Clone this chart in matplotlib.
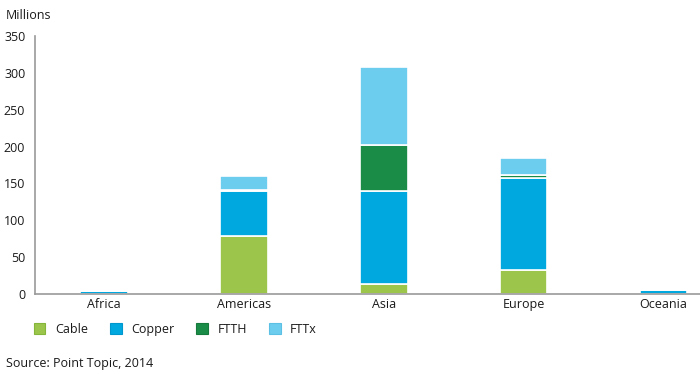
import numpy as np
import matplotlib.pyplot as plt
from matplotlib.patches import Patch

regions = ["Africa", "Americas", "Asia", "Europe", "Oceania"]
cable = [0.5, 79, 13, 32, 0.5]
copper = [3.5, 61, 127, 125, 4.5]
ftth = [0, 0.5, 62, 4, 0]
fttx = [0, 20, 106, 24, 0]

series = ["Cable", "Copper", "FTTH", "FTTx"]
colors = ["#9bc64b", "#00a8e0", "#1b8c47", "#6dcdee"]
edges = ["#86b53c", "#0097cc", "#157a3c", "#5cc0e4"]

plt.rcParams["font.family"] = ["Open Sans", "DejaVu Sans"]
txt_col = "#1a1a1a"

fig = plt.figure(figsize=(7, 3.74), dpi=100)
ax = fig.add_axes([0.05, 0.214, 0.95, 0.69])

x = np.arange(len(regions))
bottom = np.zeros(len(regions))
for vals, col in zip([cable, copper, ftth, fttx], colors):
    ax.bar(x, vals, width=0.34, bottom=bottom, color=col, edgecolor="white", linewidth=1.2)
    bottom += np.array(vals)

ax.set_ylim(0, 350)
ax.set_xlim(-0.493, 4.26)
ax.set_yticks(range(0, 351, 50))
ax.set_xticks(x)
ax.set_xticklabels(regions)
ax.tick_params(length=0, labelsize=9, colors=txt_col)
ax.tick_params(axis="y", pad=7)
ax.tick_params(axis="x", pad=3)
for s in ["top", "right"]:
    ax.spines[s].set_visible(False)
for s in ["left", "bottom"]:
    ax.spines[s].set_color("#999999")
    ax.spines[s].set_linewidth(1.2)

fig.text(0.008, 0.975, "Millions", fontsize=9, color=txt_col, va="top")
fig.text(0.008, 0.029, "Source: Point Topic, 2014", fontsize=9, color=txt_col, va="center")

handles = [Patch(facecolor=c, edgecolor=e, linewidth=0.8) for c, e in zip(colors, edges)]
fig.legend(handles, series, loc="center left", bbox_to_anchor=(0.048, 0.12), ncol=4,
           frameon=False, fontsize=9, handlelength=0.95, handleheight=0.95,
           columnspacing=1.75, handletextpad=0.75, borderpad=0, borderaxespad=0,
           labelcolor=txt_col)

fig.savefig("out.png", dpi=100)
